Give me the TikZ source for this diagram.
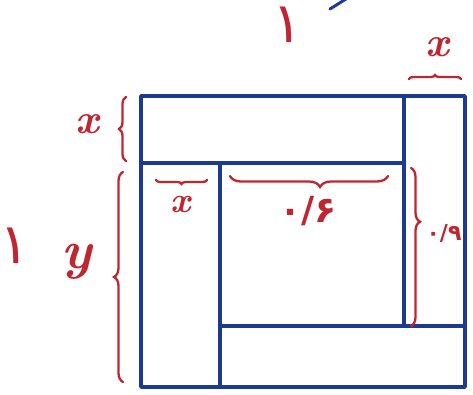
\documentclass[tikz,border=0pt]{standalone}
\usepackage{fontspec}
\newfontfamily\farsi[Script=Arabic]{DejaVu Sans}
\usepackage{tikz}
\usetikzlibrary{decorations.pathreplacing,calc}
\definecolor{ink}{RGB}{28,58,145}
\definecolor{pen}{RGB}{192,38,50}

\begin{document}
\begin{tikzpicture}[
    x=1pt, y=-1pt,
    frame/.style={draw=ink, line width=3.6pt, line join=round, line cap=round},
    lbl/.style={color=pen, font=\fontsize{#1}{#1}\selectfont\bfseries\itshape, inner sep=0pt},
    lbl/.default=42,
    num/.style={color=pen, font=\farsi\fontsize{#1}{#1}\selectfont\bfseries, inner sep=0pt},
    one/.style={color=pen, font=\farsi\fontsize{56}{56}\selectfont, inner sep=0pt},
    curly/.style={draw=pen, line width=2.3pt, line cap=round,
                  decorate, decoration={brace, amplitude=#1}},
    curly/.default=8pt,
  ]
  \useasboundingbox (0,0) rectangle (473,394);

  % square corners and inner walls
  \coordinate (nw) at (141,96);
  \coordinate (se) at (465,387);
  \coordinate (a) at (220,163);
  \coordinate (b) at (404,163);
  \coordinate (c) at (404,326);
  \coordinate (d) at (220,326);
  \draw[frame] (nw) rectangle (se);
  \draw[frame] (nw |- a) -- (b);
  \draw[frame] (b |- nw) -- (c);
  \draw[frame] (d) -- (c -| se);
  \draw[frame] (a) -- (a |- se);
  % stray pen stroke at the top edge
  \draw[frame, line width=3pt] (330,9) -- (346,-1);

  % side lengths
  \node[one] (onetop) at (288,25) {۱};
  \node[one] (oneleft) at (15,246) {۱};

  % top strip width
  \node[lbl] (xleft) at (87,124) {x};
  \draw[curly=7pt] (126,161) -- (126,97);

  % lower part height
  \node[lbl=54] (yleft) at (77,262) {y};
  \draw[curly=9pt] (123,382) -- (123,172);

  % right strip width
  \node[lbl] (xright) at (437,47) {x};
  \draw[curly=4pt] (409,79) -- (461,79);

  % left strip width
  \node[lbl=36] (xsmall) at (181,205) {x};
  \draw[curly=4pt] (207,180) -- (156,180);

  % inner square sides
  \node[num=36] (sixth) at (308,211) {۰/۶};
  \draw[curly=11pt, decoration={aspect=0.43}] (388,176) -- (230,176);
  \node[num=22] (ninth) at (444,233) {۰/۹};
  \draw[curly=9pt, decoration={aspect=0.34}] (411,168) -- (411,326);
\end{tikzpicture}
\end{document}
